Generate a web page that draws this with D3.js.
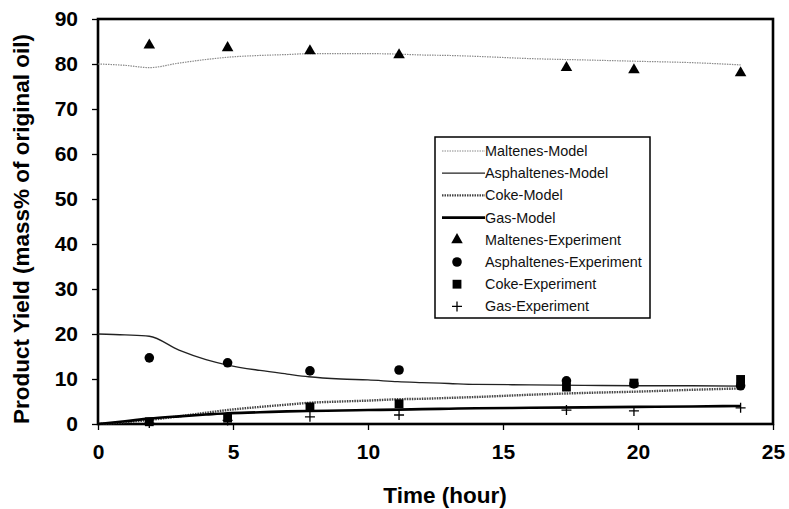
<!DOCTYPE html>
<html>
<head>
<meta charset="utf-8">
<script src="https://cdn.jsdelivr.net/npm/d3@7/dist/d3.min.js"></script>
<style>
  html, body { margin: 0; padding: 0; background: #fff; }
  svg { display: block; font-family: "Liberation Sans", Arial, sans-serif; }
</style>
</head>
<body>
<svg id="chart" width="789" height="509"></svg>
<script>
// Experimental sampling times (hours)
const expTime = [1.9, 4.8, 7.85, 11.15, 17.35, 19.85, 23.8];
const maltenesExp = [84.2, 83.6, 82.9, 82.0, 79.2, 78.7, 78.0];
const asphaltenesExp = [14.7, 13.6, 11.8, 12.0, 9.6, 8.9, 8.5];
const cokeExp = [0.5, 1.3, 3.8, 4.5, 8.2, 9.1, 9.9];
const gasExp = [0.2, 0.8, 1.6, 2.0, 3.1, 2.9, 3.6];

// Model curves
const modelTime = [0, 1, 1.9, 3, 4, 4.8, 6, 7, 7.8, 9, 10, 11.1, 12, 13, 14, 16, 18, 20, 22, 23.8];
const maltenesModel = [80.0, 79.7, 79.2, 80.2, 81.0, 81.5, 81.9, 82.1, 82.3, 82.3, 82.3, 82.2, 82.0, 81.9, 81.7, 81.2, 80.9, 80.6, 80.3, 79.8];
const asphaltenesModel = [20.0, 19.8, 19.5, 16.4, 14.3, 13.1, 11.9, 11.1, 10.5, 10.0, 9.8, 9.4, 9.2, 9.0, 8.8, 8.7, 8.6, 8.5, 8.5, 8.4];
const cokeModel = [0, 0.4, 0.9, 1.7, 2.5, 3.1, 3.8, 4.3, 4.7, 5.0, 5.2, 5.5, 5.6, 5.8, 6.0, 6.5, 6.9, 7.2, 7.6, 7.9];
const gasModel = [0, 0.6, 1.2, 1.7, 2.1, 2.4, 2.6, 2.8, 2.9, 3.0, 3.1, 3.2, 3.3, 3.4, 3.5, 3.6, 3.7, 3.8, 3.9, 4.0];

const xTicks = [0, 5, 10, 15, 20, 25];
const yTicks = [0, 10, 20, 30, 40, 50, 60, 70, 80, 90];

const legendLabels = [
  "Maltenes-Model", "Asphaltenes-Model", "Coke-Model", "Gas-Model",
  "Maltenes-Experiment", "Asphaltenes-Experiment", "Coke-Experiment", "Gas-Experiment"
];

const svg = d3.select("#chart");
const plot = { left: 98, right: 773, top: 19, bottom: 424 };

const x = d3.scaleLinear().domain([0, 25]).range([plot.left, plot.right]);
const y = d3.scaleLinear().domain([0, 90]).range([plot.bottom, plot.top]);

// Axes
const xAxis = d3.axisBottom(x).tickValues(xTicks).tickSize(6).tickPadding(14).tickFormat(d3.format("d"));
const yAxis = d3.axisLeft(y).tickValues(yTicks).tickSize(6).tickPadding(14).tickFormat(d3.format("d"));

const gx = svg.append("g").attr("transform", `translate(0,${plot.bottom})`).call(xAxis);
const gy = svg.append("g").attr("transform", `translate(${plot.left},0)`).call(yAxis);
[gx, gy].forEach(g => {
  g.select(".domain").remove();
  g.selectAll(".tick line").attr("stroke", "#000").attr("stroke-width", 1.3);
  g.selectAll(".tick text")
    .attr("font-size", 21).attr("font-weight", "bold").attr("fill", "#000")
    .attr("font-family", "'Liberation Sans', Arial, sans-serif");
});

// Frame
svg.append("rect")
  .attr("x", plot.left).attr("y", plot.top)
  .attr("width", plot.right - plot.left).attr("height", plot.bottom - plot.top)
  .attr("fill", "none").attr("stroke", "#000").attr("stroke-width", 2.6);

// Axis titles
svg.append("text")
  .attr("x", 445).attr("y", 503)
  .attr("text-anchor", "middle").attr("font-size", 22.5).attr("font-weight", "bold")
  .text("Time (hour)");
svg.append("text")
  .attr("transform", `translate(29,229) rotate(-90)`)
  .attr("text-anchor", "middle").attr("font-size", 22.5).attr("font-weight", "bold")
  .text("Product Yield (mass% of original oil)");

// Model line styles
const modelStyles = [
  { values: maltenesModel, stroke: "#8a8a8a", width: 1.2, dash: "1.5,1" },
  { values: asphaltenesModel, stroke: "#222", width: 1.3, dash: null },
  { values: cokeModel, stroke: "#444", width: 2.4, dash: "1.5,1" },
  { values: gasModel, stroke: "#000", width: 2.6, dash: null }
];

const line = d3.line().x(d => x(d[0])).y(d => y(d[1])).curve(d3.curveMonotoneX);
modelStyles.forEach(s => {
  svg.append("path")
    .datum(modelTime.map((t, i) => [t, s.values[i]]))
    .attr("d", line)
    .attr("fill", "none")
    .attr("stroke", s.stroke)
    .attr("stroke-width", s.width)
    .attr("stroke-dasharray", s.dash);
});

// Marker drawing helpers
const sym = {
  triangle: d3.symbol().type(d3.symbolTriangle).size(58),
  circle: d3.symbol().type(d3.symbolCircle).size(72),
  square: d3.symbol().type(d3.symbolSquare).size(78)
};
function drawMarker(g, kind, cx, cy) {
  if (kind === "plus") {
    g.append("path")
      .attr("d", `M${cx - 5},${cy}H${cx + 5}M${cx},${cy - 5}V${cy + 5}`)
      .attr("stroke", "#000").attr("stroke-width", 1.3).attr("fill", "none");
  } else {
    g.append("path")
      .attr("d", sym[kind]())
      .attr("transform", `translate(${cx},${cy})`)
      .attr("fill", "#000");
  }
}

const expSeries = [
  { values: maltenesExp, kind: "triangle" },
  { values: asphaltenesExp, kind: "circle" },
  { values: cokeExp, kind: "square" },
  { values: gasExp, kind: "plus" }
];
const gm = svg.append("g");
expSeries.forEach(s => {
  expTime.forEach((t, i) => drawMarker(gm, s.kind, x(t), y(s.values[i])));
});

// Legend
const lg = svg.append("g").attr("transform", "translate(435,137)");
lg.append("rect").attr("width", 215).attr("height", 181)
  .attr("fill", "#fff").attr("stroke", "#000").attr("stroke-width", 1.5);
legendLabels.forEach((label, i) => {
  const ry = 14 + i * 22.2;
  if (i < 4) {
    const s = modelStyles[i];
    lg.append("line").attr("x1", 7).attr("x2", 50).attr("y1", ry).attr("y2", ry)
      .attr("stroke", s.stroke).attr("stroke-width", s.width)
      .attr("stroke-dasharray", s.dash);
  } else {
    drawMarker(lg, expSeries[i - 4].kind, 22, ry);
  }
  lg.append("text").attr("x", 50).attr("y", ry + 5)
    .attr("font-size", 14.4).attr("fill", "#111").text(label);
});
</script>
</body>
</html>
